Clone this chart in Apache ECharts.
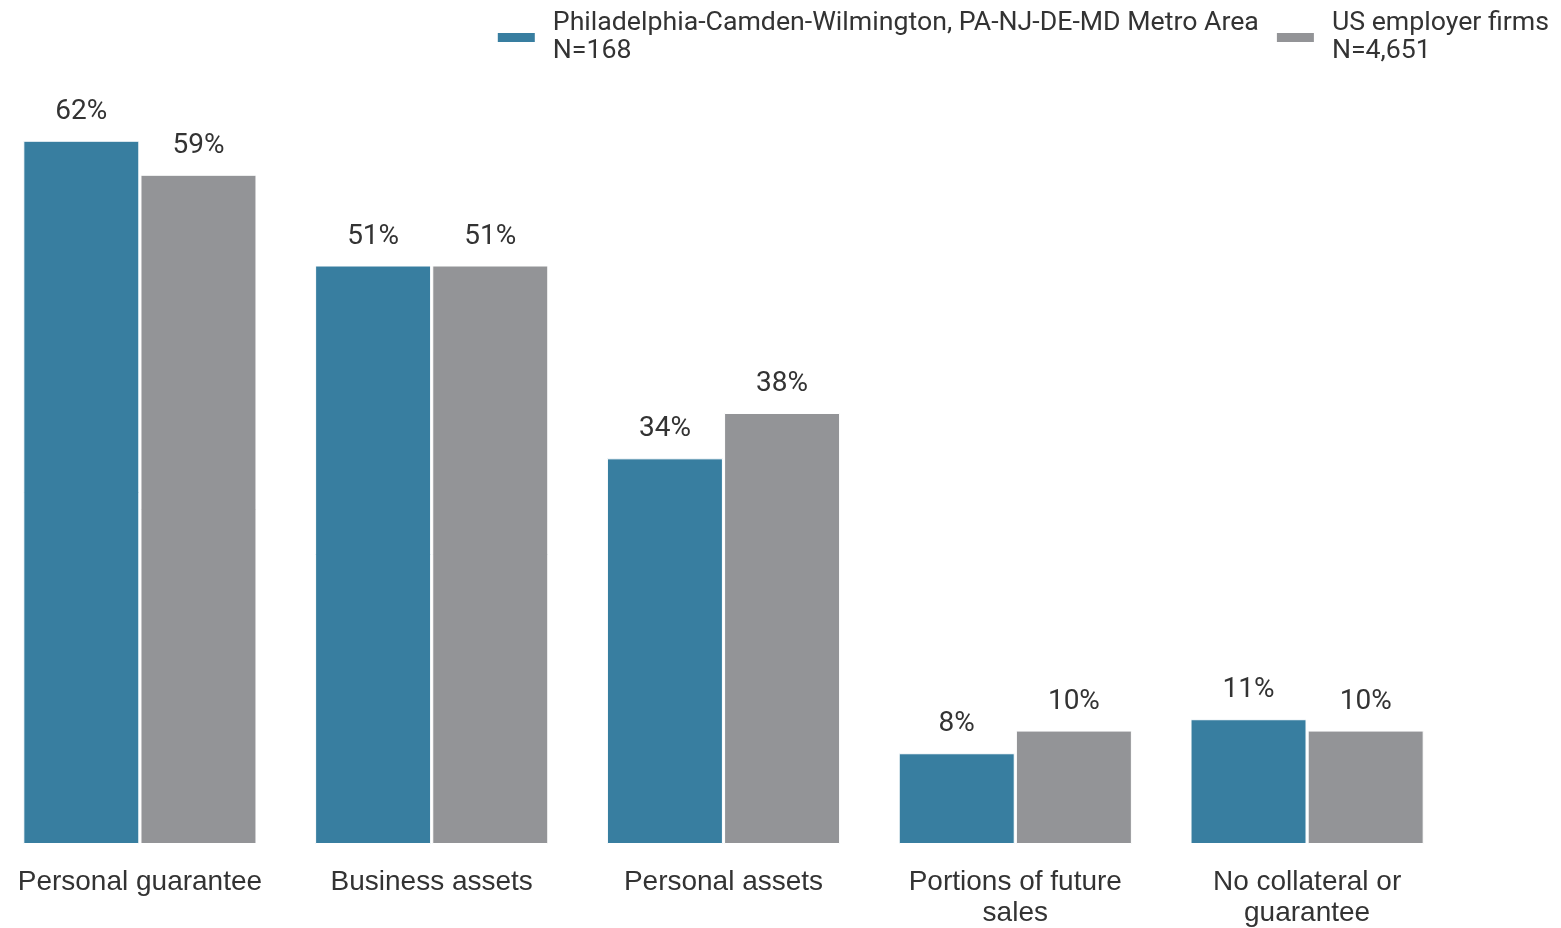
<!DOCTYPE html>
<html>
<head>
<meta charset="utf-8">
<script src="https://cdn.jsdelivr.net/npm/echarts@6/dist/echarts.min.js"></script>
<style>
  html, body { margin: 0; padding: 0; background: #fff; }
  #chart { width: 1561px; height: 928px; }
</style>
</head>
<body>
<div id="chart"></div>
<script>
const categories = [
  "Personal guarantee",
  "Business assets",
  "Personal assets",
  "Portions of future\nsales",
  "No collateral or\nguarantee"
];
const seriesNames = [
  "Philadelphia-Camden-Wilmington, PA-NJ-DE-MD Metro Area\nN=168",
  "US employer firms\nN=4,651"
];
const metroValues = [62, 51, 34, 8, 11];
const usValues = [59, 51, 38, 10, 10];

const colors = ["#387ea0", "#939497"];

const myChart = echarts.init(document.getElementById("chart"));

// label style shared by both series
const barLabel = {
  show: true,
  position: "top",
  distance: 15,
  formatter: "{c}%",
  fontFamily: "Roboto",
  fontSize: 28,
  color: "#333"
};

const option = {
  backgroundColor: "#fff",
  animation: false,
  legend: {
    top: 0,
    right: 7,
    itemWidth: 39,
    itemHeight: 11,
    itemGap: 16,
    icon: "rect",
    textStyle: {
      fontFamily: "Roboto",
      fontSize: 26.7,
      color: "#333",
      lineHeight: 28,
      padding: [0, 0, 9, 12]
    },
    data: seriesNames
  },
  grid: {
    left: -6,
    right: 108,
    top: 50,
    bottom: 84,
    containLabel: false,
    outerBoundsMode: "none"
  },
  xAxis: {
    type: "category",
    data: categories,
    axisLine: { show: false },
    axisTick: { show: false },
    axisLabel: {
      interval: 0,
      margin: 23,
      fontFamily: "Liberation Sans",
      fontSize: 28,
      lineHeight: 31,
      color: "#333"
    }
  },
  yAxis: {
    type: "value",
    min: 0,
    max: 70,
    show: false,
    splitLine: { show: false }
  },
  series: [
    {
      name: seriesNames[0],
      type: "bar",
      data: metroValues,
      barWidth: 116,
      barGap: "1%",
      itemStyle: { color: colors[0], borderColor: "#fff", borderWidth: 1 },
      label: barLabel
    },
    {
      name: seriesNames[1],
      type: "bar",
      data: usValues,
      barWidth: 116,
      itemStyle: { color: colors[1], borderColor: "#fff", borderWidth: 1 },
      label: barLabel
    }
  ]
};

myChart.setOption(option);
</script>
</body>
</html>
